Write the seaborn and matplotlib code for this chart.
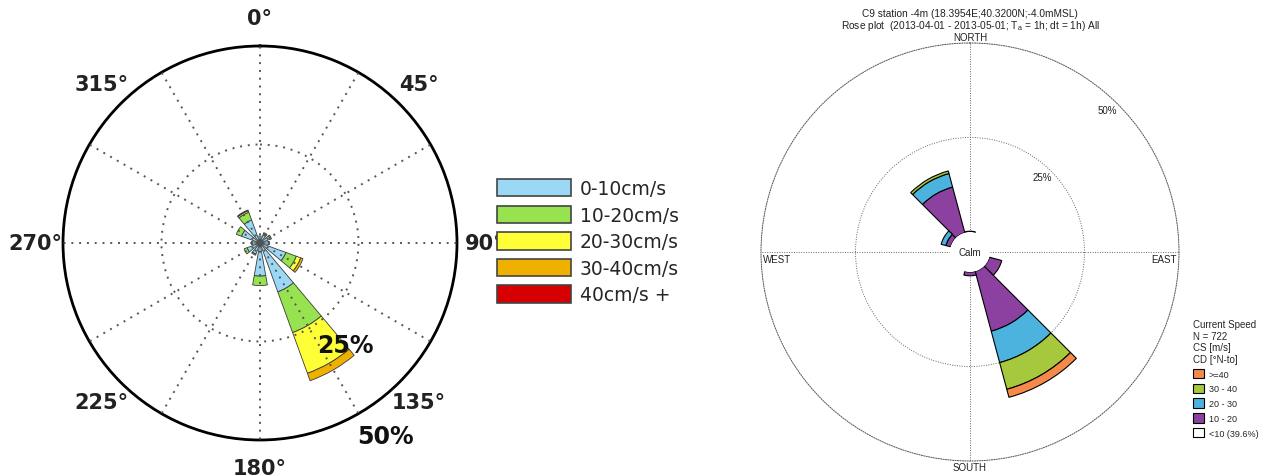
import numpy as np
import matplotlib
matplotlib.use("Agg")
import matplotlib.pyplot as plt
from matplotlib.patches import Patch
import seaborn as sns

# ---- left rose: 12 sectors, frequency (%) per speed class ----
dirs_left = [0, 30, 60, 90, 120, 150, 180, 210, 240, 270, 300, 330]
classes_left = ['0-10cm/s', '10-20cm/s', '20-30cm/s', '30-40cm/s', '40cm/s +']
left_0_10 = [1.8, 2.5, 2.8, 2.2, 7.0, 13.2, 8.4, 3.0, 3.5, 2.0, 5.0, 6.2]
left_10_20 = [0.0, 0.3, 0.3, 0.2, 2.8, 11.0, 2.4, 0.3, 0.8, 0.2, 1.4, 2.1]
left_20_30 = [0, 0, 0, 0, 1.2, 11.0, 0, 0, 0, 0, 0, 0.4]
left_30_40 = [0, 0, 0, 0, 0.6, 2.0, 0, 0, 0, 0, 0, 0.2]
left_40p = [0, 0, 0, 0, 0, 0, 0, 0, 0, 0, 0, 0]
colors_left = ['#9ad8f6', '#97e34f', '#ffff38', '#efb000', '#d60000']
deg_labels = [0, 45, 90, 135, 180, 225, 270, 315]

# ---- right rose (C9 station) ----
dirs_right = [0, 30, 60, 90, 120, 150, 180, 210, 240, 270, 300, 330]
classes_right = ['10 - 20', '20 - 30', '30 - 40', '>=40']
right_10_20 = [0.2, 0, 0, 0, 3.4, 16.4, 1.0, 0, 0, 0, 1.3, 12.5]
right_20_30 = [0, 0, 0, 0, 0, 8.6, 0, 0, 0, 0, 1.3, 3.7]
right_30_40 = [0, 0, 0, 0, 0, 7.3, 0, 0, 0, 0, 0, 0.7]
right_40p = [0, 0, 0, 0, 0, 2.2, 0, 0, 0, 0, 0, 0]
calm_label = '<10 (39.6%)'
colors_right = ['#8c409f', '#4cb3de', '#a5c83d', '#f5894a']
compass = ['NORTH', 'EAST', 'SOUTH', 'WEST']

sns.set_style("white")
plt.rcParams['font.family'] = ['Liberation Sans', 'DejaVu Sans']

W, H = 1271, 477
fig = plt.figure(figsize=(W / 100, H / 100), dpi=100)


def stack(ax, dirs, series, colors, width, ec, lw):
    theta = np.deg2rad(dirs)
    bottom = np.zeros(len(dirs))
    for vals, c in zip(series, colors):
        vals = np.asarray(vals, dtype=float)
        m = vals > 0
        if m.any():
            ax.bar(theta[m], vals[m], width=np.deg2rad(width), bottom=bottom[m],
                   color=c, edgecolor=ec, linewidth=lw, align='center')
        bottom += vals


# ---------------- left plot ----------------
axl = fig.add_axes([63 / W, 1 - (244 + 197) / H, 394 / W, 394 / H], projection='polar')
axl.set_theta_zero_location('N')
axl.set_theta_direction(-1)
series_l = [left_0_10, left_10_20, left_20_30, left_30_40, left_40p]
stack(axl, dirs_left, series_l, colors_left, 20, '#3a3a3a', 0.6)
axl.set_ylim(0, 50)
axl.set_rticks([25])
axl.set_yticklabels([])
axl.set_thetagrids(dirs_left, labels=[''] * len(dirs_left))
axl.set_axisbelow(False)
axl.grid(True, color='#555555', linestyle=(0, (1, 3)), linewidth=1.4)
axl.spines['polar'].set_linewidth(2)
axl.spines['polar'].set_color('black')
for d in deg_labels:
    axl.text(np.deg2rad(d), 57, f'{d}°', ha='center', va='center',
             fontsize=15, fontweight='bold', family='DejaVu Sans',
             color='#222222', clip_on=False)
axl.text(np.deg2rad(140), 33.8, '25%', ha='center', va='center', fontsize=17,
         fontweight='bold', family='DejaVu Sans', color='#111111')
axl.text(np.deg2rad(147), 58.5, '50%', ha='center', va='center', fontsize=17,
         fontweight='bold', family='DejaVu Sans', color='#111111', clip_on=False)

handles_l = [Patch(facecolor=c, edgecolor='#444444', linewidth=1.2, label=l)
             for c, l in zip(colors_left, classes_left)]
legl = fig.legend(handles=handles_l, loc='upper left',
                  bbox_to_anchor=(497 / W, 1 - 180 / H), frameon=False,
                  prop={'family': 'DejaVu Sans', 'size': 13.5},
                  handlelength=3.95, handleheight=1.05, handletextpad=0.45,
                  labelspacing=0.4, borderpad=0, borderaxespad=0)
legl.set_zorder(10)

# ---------------- right plot ----------------
axr = fig.add_axes([761 / W, 1 - (253 + 209) / H, 418 / W, 418 / H], projection='polar')
axr.set_theta_zero_location('N')
axr.set_theta_direction(-1)
series_r = [right_10_20, right_20_30, right_30_40, right_40p]
stack(axr, dirs_right, series_r, colors_right, 30, 'black', 0.8)
axr.set_ylim(0, 50)
axr.set_rorigin(-5.3)
axr.set_rticks([25])
axr.set_yticklabels([])
axr.set_thetagrids([0, 90, 180, 270], labels=['', '', '', ''])
axr.set_axisbelow(True)
axr.grid(True, color='#666666', linestyle=(0, (1, 1.5)), linewidth=0.7)
axr.spines['polar'].set_linestyle((0, (1, 1.5)))
axr.spines['polar'].set_linewidth(0.7)
axr.spines['polar'].set_color('#555555')
# calm hole has no outline
axr.spines['inner'].set_color('none')
axr.spines['inner'].set_linewidth(0)

tk = dict(fontsize=7, color='#222222')
axr.text(0.5, 1.003, compass[0], transform=axr.transAxes, ha='center', va='bottom', **tk)
axr.text(0.995, 0.483, compass[1], transform=axr.transAxes, ha='right', va='center', **tk)
axr.text(0.5, -0.002, compass[2], transform=axr.transAxes, ha='center', va='top', **tk)
axr.text(0.004, 0.483, compass[3], transform=axr.transAxes, ha='left', va='center', **tk)
axr.text(0.5, 0.5, 'Calm', transform=axr.transAxes, ha='center', va='center', **tk)
axr.text(np.deg2rad(44), 22.3, '25%', ha='center', va='center', **tk)
axr.text(np.deg2rad(44), 47.0, '50%', ha='center', va='center', **tk)

fig.text(970 / W, 1 - 14 / H, 'C9 station -4m (18.3954E;40.3200N;-4.0mMSL)',
         ha='center', va='center', fontsize=7.3, color='#222222')
fig.text(970 / W, 1 - 26 / H,
         r'Rose plot  (2013-04-01 - 2013-05-01; T$_\mathregular{a}$ = 1h; dt = 1h) All',
         ha='center', va='center', fontsize=7.3, color='#222222')

handles_r = [Patch(facecolor=c, edgecolor='black', linewidth=0.8, label=l)
             for c, l in zip(colors_right[::-1], classes_right[::-1])]
handles_r.append(Patch(facecolor='white', edgecolor='black', linewidth=0.8, label=calm_label))
legr = fig.legend(handles=handles_r, loc='upper left',
                  bbox_to_anchor=(1193 / W, 1 - 320 / H), frameon=False,
                  title='Current Speed\nN = 722\nCS [m/s]\nCD [°N-to]',
                  fontsize=6.5, title_fontsize=7, alignment='left',
                  handlelength=1.25, handleheight=1.25, handletextpad=0.5,
                  labelspacing=0.55, borderpad=0, borderaxespad=0)

fig.savefig('out.png', dpi=100)
